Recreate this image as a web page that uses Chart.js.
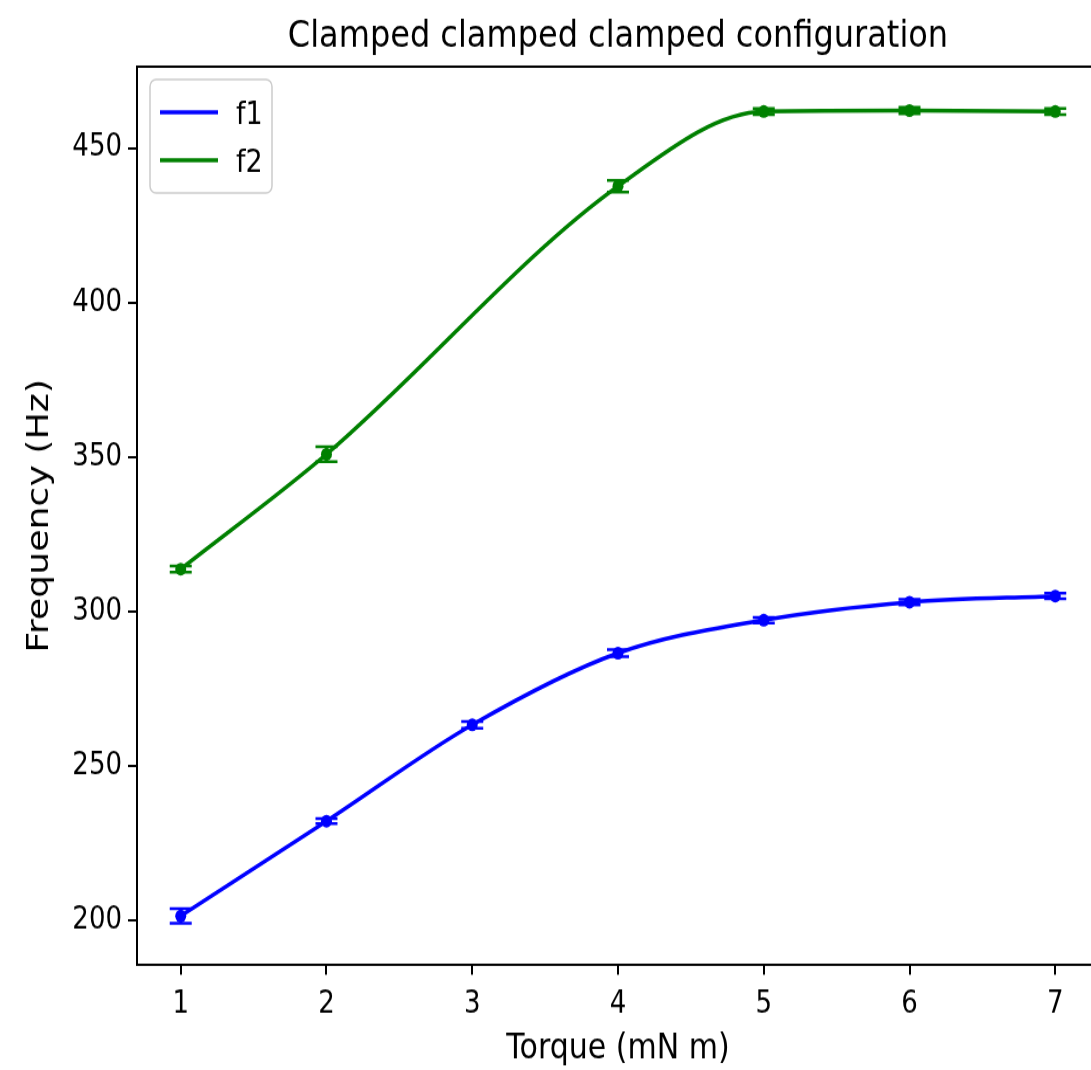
<!DOCTYPE html>
<html>
<head>
<meta charset="utf-8">
<script src="https://cdn.jsdelivr.net/npm/chart.js@4"></script>
<style>
  html, body { margin: 0; padding: 0; background: #fff; }
  #wrap { width: 1091px; height: 1070px; overflow: hidden; position: relative; }
  /* drawn at 915px high, stretched to the full page height */
  #chart { width: 1110px; height: 915px; transform: scaleY(1.1694); transform-origin: 0 0; }
</style>
</head>
<body>
<div id="wrap"><canvas id="chart" width="1110" height="915"></canvas></div>
<script>
const torque = [1, 2, 3, 4, 5, 6, 7];
const f1 = [201.4, 232.1, 263.3, 286.5, 297.2, 303.0, 305.0];
const f1Err = [2.4, 0.8, 1.1, 1.1, 0.9, 0.9, 0.9];
const f2 = [313.7, 350.9, null, 437.7, 461.9, 462.2, 461.9];
const f2Err = [1.0, 2.4, null, 1.9, 1.0, 1.0, 1.0];
const xTicks = [1, 2, 3, 4, 5, 6, 7];
const yTicks = [200, 250, 300, 350, 400, 450];

const FONT = "'DejaVu Sans', sans-serif";

function toPoints(ys) {
  return torque.map((x, i) => ({ x: x, y: ys[i] }));
}

// error bars with caps, drawn over the lines
const errorBars = {
  id: "errorBars",
  afterDatasetsDraw(chart) {
    const ctx = chart.ctx;
    const xs = chart.scales.x, ys = chart.scales.y;
    chart.data.datasets.forEach((ds) => {
      ctx.save();
      ctx.strokeStyle = ds.borderColor;
      ctx.lineWidth = 2.5;
      ds.errorBars.forEach((e, i) => {
        const pt = ds.data[i];
        if (e == null || pt.y == null) return;
        const px = xs.getPixelForValue(pt.x);
        const top = ys.getPixelForValue(pt.y + e);
        const bot = ys.getPixelForValue(pt.y - e);
        ctx.beginPath();
        ctx.moveTo(px, top); ctx.lineTo(px, bot);
        ctx.moveTo(px - 11, top); ctx.lineTo(px + 11, top);
        ctx.moveTo(px - 11, bot); ctx.lineTo(px + 11, bot);
        ctx.stroke();
      });
      ctx.restore();
    });
  }
};

// top spine, title and the boxed legend
const frame = {
  id: "frame",
  afterDraw(chart) {
    const ctx = chart.ctx;
    const a = chart.chartArea;
    ctx.save();
    ctx.strokeStyle = "#000";
    ctx.lineWidth = 2;
    ctx.beginPath();
    ctx.moveTo(a.left - 1, a.top);
    ctx.lineTo(a.right, a.top);
    ctx.lineTo(a.right, a.bottom);
    ctx.stroke();

    ctx.fillStyle = "#000";
    ctx.font = "32px " + FONT;
    ctx.textAlign = "center";
    ctx.textBaseline = "alphabetic";
    ctx.fillText("Clamped clamped clamped configuration", (a.left + a.right) / 2, 40);

    // legend
    const bx = 150, by = 68, bw = 122, bh = 97;
    ctx.beginPath();
    ctx.roundRect(bx, by, bw, bh, 6);
    ctx.fillStyle = "rgba(255,255,255,0.8)";
    ctx.fill();
    ctx.strokeStyle = "#cccccc";
    ctx.lineWidth = 1.5;
    ctx.stroke();
    ctx.font = "27px " + FONT;
    ctx.textAlign = "left";
    chart.data.datasets.forEach((ds, i) => {
      const ly = 96 + i * 41;
      ctx.strokeStyle = ds.borderColor;
      ctx.lineWidth = 3.5;
      ctx.beginPath();
      ctx.moveTo(160, ly); ctx.lineTo(218, ly);
      ctx.stroke();
      ctx.fillStyle = "#000";
      ctx.fillText(ds.label, 236, ly + 10);
    });
    ctx.restore();
  }
};

new Chart(document.getElementById("chart"), {
  type: "line",
  data: {
    datasets: [
      {
        label: "f1",
        data: toPoints(f1),
        errorBars: f1Err,
        borderColor: "#0000ff",
        backgroundColor: "#0000ff",
        borderWidth: 3.5,
        pointRadius: 5.5,
        pointBorderWidth: 0,
        cubicInterpolationMode: "monotone",
        spanGaps: true
      },
      {
        label: "f2",
        data: toPoints(f2),
        errorBars: f2Err,
        borderColor: "#008000",
        backgroundColor: "#008000",
        borderWidth: 3.5,
        pointRadius: 5.5,
        pointBorderWidth: 0,
        cubicInterpolationMode: "monotone",
        spanGaps: true
      }
    ]
  },
  options: {
    responsive: false,
    animation: false,
    layout: { padding: { top: 57, left: 0, right: 11, bottom: 0 } },
    plugins: {
      legend: { display: false },
      title: { display: false },
      tooltip: { enabled: false }
    },
    scales: {
      x: {
        type: "linear",
        min: 0.7,
        max: 7.3,
        afterBuildTicks: (s) => { s.ticks = xTicks.map((v) => ({ value: v })); },
        afterFit: (s) => { s.height = 90; },
        border: { color: "#000", width: 2 },
        grid: { drawOnChartArea: false, color: "#000", lineWidth: 2, tickLength: 8.5 },
        ticks: { color: "#000", padding: 10, font: { family: FONT, size: 26 } },
        title: {
          display: true,
          text: "Torque (mN m)",
          color: "#000",
          padding: { top: 0, bottom: 0 },
          font: { family: FONT, size: 30 }
        }
      },
      y: {
        min: 185.6,
        max: 476.4,
        afterBuildTicks: (s) => { s.ticks = yTicks.map((v) => ({ value: v })); },
        afterFit: (s) => { s.width = 137; },
        border: { color: "#000", width: 2 },
        grid: { drawOnChartArea: false, color: "#000", lineWidth: 2, tickLength: 9 },
        ticks: { color: "#000", padding: 6, font: { family: FONT, size: 26 } },
        title: {
          display: true,
          text: "Frequency (Hz)",
          color: "#000",
          padding: { top: 21, bottom: 0 },
          font: { family: FONT, size: 31 }
        }
      }
    }
  },
  plugins: [errorBars, frame]
});
</script>
</body>
</html>
